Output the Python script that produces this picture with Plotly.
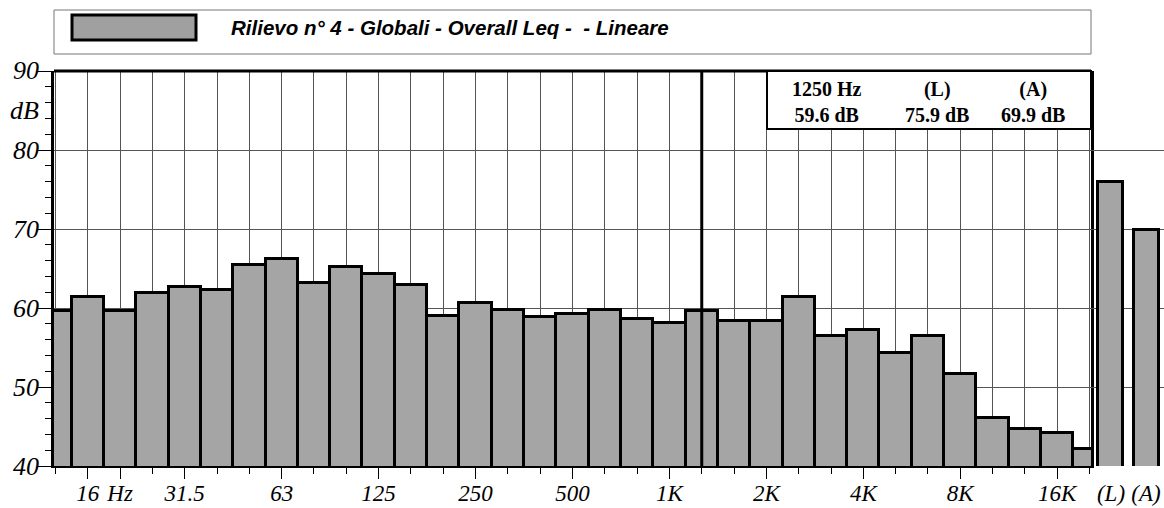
import plotly.graph_objects as go

# One-third-octave band centres (12.5 Hz .. 20 kHz) and measured levels (dB, linear weighting)
bands = ["12.5", "16", "20", "25", "31.5", "40", "50", "63", "80", "100", "125", "160",
         "200", "250", "315", "400", "500", "630", "800", "1000", "1250", "1600", "2000",
         "2500", "3150", "4000", "5000", "6300", "8000", "10000", "12500", "16000", "20000"]
levels = [59.6, 61.4, 59.6, 61.9, 62.7, 62.3, 65.4, 66.2, 63.2, 65.2, 64.3, 62.9,
          59.0, 60.6, 59.8, 58.8, 59.3, 59.7, 58.6, 58.1, 59.6, 58.3, 58.4,
          61.4, 56.4, 57.2, 54.3, 56.4, 51.6, 46.1, 44.7, 44.2, 42.1]

# Overall values
overall_labels = ["(L)", "(A)"]
overall_levels = [75.9, 69.9]

# Labelled frequency ticks (band index -> text)
tick_index = [1, 2, 4, 7, 10, 13, 16, 19, 22, 25, 28, 31]
tick_text = ["16", "Hz", "31.5", "63", "125", "250", "500", "1K", "2K", "4K", "8K", "16K"]

# Cursor position
cursor_band = "1250"

# Level axis labels (value -> text); "dB" sits at 85
y_label_vals = [40, 50, 60, 70, 80, 85, 90]
y_label_text = ["40", "50", "60", "70", "80", "dB", "90"]
y_ticks = [40, 50, 60, 70, 80, 90]

W, H = 1164, 508
px = lambda v: v / W
py = lambda v: (H - v) / H

plot_left, plot_right, plot_top, plot_bottom = 54, 1091, 71, 466

bar_marker = dict(
    color="#a0a0a0",
    line=dict(color="black", width=3),
    pattern=dict(shape=".", size=2, solidity=0.45, fgcolor="#666666", bgcolor="#b4b4b4"),
)

idx = list(range(len(bands)))
fig = go.Figure()
fig.add_trace(go.Bar(x=idx, y=levels, width=1.0, marker=bar_marker,
                     xaxis="x", yaxis="y", showlegend=False, hoverinfo="x+y"))
fig.add_trace(go.Bar(x=[0, 1], y=overall_levels, width=0.714, marker=bar_marker,
                     xaxis="x2", yaxis="y", showlegend=False))

serif = "Liberation Serif"
tick_font = dict(family=serif, size=23, color="black", style="italic")
ital = lambda s: f"<i>{s}</i>"

fig.update_layout(
    width=W, height=H,
    margin=dict(l=0, r=0, t=0, b=0, autoexpand=False),
    paper_bgcolor="white", plot_bgcolor="white",
    font=dict(family=serif, color="black"),
    bargap=0,
    xaxis=dict(
        domain=[px(plot_left), px(plot_right)],
        range=[-0.046, 32.046],
        anchor="y", automargin=False,
        tickmode="array", tickvals=tick_index, ticktext=[ital(t) for t in tick_text],
        ticks="outside", ticklen=11, tickwidth=1, tickcolor="black",
        tickfont=tick_font, ticklabelstandoff=-5,
        showgrid=True, gridcolor="#555555", gridwidth=1,
        showline=True, linecolor="black", linewidth=1.5,
        zeroline=False,
        minor=dict(tick0=0, dtick=1, ticks="outside", ticklen=6, tickwidth=1,
                   tickcolor="black", showgrid=True, gridcolor="#555555", gridwidth=1),
    ),
    xaxis2=dict(
        domain=[px(plot_right), 1.0],
        range=[-0.571, 1.514],
        anchor="y", automargin=False,
        tickmode="array", tickvals=[0, 1], ticktext=[ital(t) for t in overall_labels],
        ticks="outside", ticklen=11, tickcolor="rgba(0,0,0,0)",
        tickfont=tick_font, ticklabelstandoff=-5,
        showgrid=False, showline=False, zeroline=False,
    ),
    yaxis=dict(
        domain=[py(plot_bottom), py(plot_top)],
        range=[40, 90], automargin=False,
        tickmode="array", tickvals=y_ticks, showticklabels=False,
        ticks="outside", ticklen=14, tickwidth=1, tickcolor="black",
        showgrid=True, gridcolor="#555555", gridwidth=1,
        showline=True, linecolor="black", linewidth=3, mirror=True,
        zeroline=False,
        minor=dict(dtick=2, ticks="outside", ticklen=6, tickwidth=1, tickcolor="black",
                   showgrid=False),
    ),
)

# Level axis labels placed on the y scale, just left of the tick marks
for v, t in zip(y_label_vals, y_label_text):
    fig.add_annotation(x=px(41), xref="paper", y=v, yref="y",
                       text=f"<i>{t}</i>", showarrow=False, xanchor="right", yanchor="middle",
                       font=dict(family=serif, size=26, color="black", style="italic"))

# Thick top border of the spectrum panel
fig.add_shape(type="line", xref="paper", yref="paper",
              x0=px(plot_left), x1=px(plot_right), y0=py(plot_top), y1=py(plot_top),
              line=dict(color="black", width=3))

# Cursor line
ci = bands.index(cursor_band)
fig.add_shape(type="line", xref="x", yref="paper", x0=ci, x1=ci,
              y0=py(plot_bottom), y1=py(plot_top),
              line=dict(color="black", width=3), layer="above")

# Cursor read-out box
fig.add_shape(type="rect", xref="paper", yref="paper",
              x0=px(767), x1=px(plot_right), y0=py(129), y1=py(plot_top),
              fillcolor="white", line=dict(color="black", width=2), layer="above")
bold_serif = dict(family=serif, size=20, color="black", weight="bold")
readout = [
    (827, f"{cursor_band} Hz<br>{levels[ci]:.1f} dB"),
    (937, f"{overall_labels[0]}<br>{overall_levels[0]:.1f} dB"),
    (1033, f"{overall_labels[1]}<br>{overall_levels[1]:.1f} dB"),
]
for xc, txt in readout:
    fig.add_annotation(x=px(xc), y=py(102), xref="paper", yref="paper", text=f"<b>{txt}</b>",
                       showarrow=False, xanchor="center", yanchor="middle",
                       font=bold_serif, align="center")

# Series header box
fig.add_shape(type="rect", xref="paper", yref="paper",
              x0=px(54), x1=px(1091), y0=py(54), y1=py(10),
              fillcolor="white", line=dict(color="#777777", width=1))
fig.add_shape(type="rect", xref="paper", yref="paper",
              x0=px(72), x1=px(196), y0=py(40), y1=py(15),
              fillcolor="#a0a0a0", line=dict(color="black", width=3))
fig.add_annotation(x=px(229), y=py(27), xref="paper", yref="paper",
                   text="<b><i>Rilievo n° 4 - Globali - Overall Leq -  - Lineare</i></b>",
                   showarrow=False, xanchor="left", yanchor="middle",
                   font=dict(family="Liberation Sans", size=20.5,
                             color="black", weight="bold", style="italic"))

fig.write_html("out.html")
